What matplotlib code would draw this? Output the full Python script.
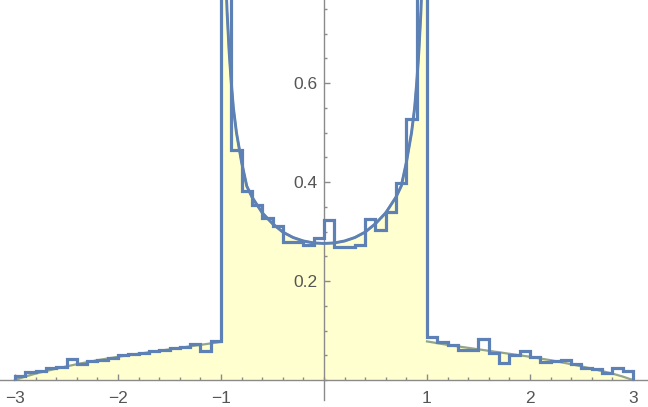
import numpy as np
import matplotlib
matplotlib.use('Agg')
import matplotlib.pyplot as plt
from matplotlib.ticker import FixedLocator, MultipleLocator

# histogram (PDF scaled), bins of width 0.1 from -3 to 3
bin_start = -3.0
bin_width = 0.1
hist_density = [
    0.008, 0.016, 0.018, 0.025, 0.026, 0.042, 0.032, 0.039, 0.040, 0.045,
    0.051, 0.053, 0.055, 0.058, 0.060, 0.064, 0.066, 0.072, 0.058, 0.079,
    1.200, 0.464, 0.382, 0.353, 0.328, 0.311, 0.279, 0.279, 0.272, 0.288,
    0.323, 0.268, 0.268, 0.273, 0.325, 0.304, 0.340, 0.399, 0.528, 1.200,
    0.086, 0.077, 0.071, 0.060, 0.060, 0.083, 0.054, 0.035, 0.051, 0.058,
    0.047, 0.037, 0.038, 0.040, 0.032, 0.024, 0.023, 0.015, 0.025, 0.018,
]

# smooth density inside (-1, 1)
center_x = [-0.96, -0.95, -0.94, -0.92, -0.90, -0.88, -0.85, -0.80, -0.75, -0.70,
            -0.60, -0.50, -0.40, -0.30, -0.20, -0.10, 0.00, 0.10, 0.20, 0.30,
            0.40, 0.50, 0.60, 0.70, 0.75, 0.80, 0.85, 0.88, 0.90, 0.92,
            0.94, 0.95, 0.96]
center_y = [0.86, 0.79, 0.74, 0.66, 0.60, 0.55, 0.50, 0.44, 0.392, 0.370,
            0.338, 0.316, 0.299, 0.288, 0.281, 0.277, 0.276, 0.277, 0.281, 0.288,
            0.299, 0.316, 0.338, 0.370, 0.392, 0.44, 0.50, 0.55, 0.60, 0.66,
            0.74, 0.79, 0.86]

# tails
left_x = [-3.0, -2.9, -2.8, -2.6, -2.4, -2.2, -2.0, -1.8, -1.6, -1.4, -1.2, -1.0]
left_y = [0.0, 0.007, 0.013, 0.023, 0.032, 0.040, 0.047, 0.053, 0.059, 0.065, 0.071, 0.077]
right_x = [1.0, 1.2, 1.4, 1.6, 1.8, 2.0, 2.2, 2.4, 2.6, 2.8, 2.9, 3.0]
right_y = [0.078, 0.071, 0.065, 0.059, 0.053, 0.047, 0.040, 0.032, 0.023, 0.013, 0.007, 0.0]

x_major = [-3, -2, -1, 1, 2, 3]
y_major = [0.2, 0.4, 0.6]

blue = '#5E81B5'
fill_col = '#FFFFD0'
curve_col = '#93a58a'
axis_col = '#8a8a8a'
text_col = '#555555'

plt.rcParams['font.family'] = ['Liberation Sans', 'DejaVu Sans']

fig = plt.figure(figsize=(6.48, 4.07), dpi=100)
ax = fig.add_axes([0, 7 / 407, 1, 400 / 407])
ax.set_xlim(-3.146, 3.146)
ax.set_ylim(-0.0404, 0.768)

# yellow filled region under the density
fx = left_x + [-1.0, -0.999] + center_x + [0.999, 1.0] + right_x
fy = left_y + [3.0, 3.0] + center_y + [3.0, 3.0] + right_y
ax.fill_between(fx, 0, fy, color=fill_col, lw=0, zorder=1)

# greenish density outline
ax.plot(left_x, left_y, color=curve_col, lw=1.6, zorder=2)
ax.plot(right_x, right_y, color=curve_col, lw=1.6, zorder=2)
ax.plot(center_x[2:-2], center_y[2:-2], color=curve_col, lw=1.6, zorder=2)

# histogram outline
edges = bin_start + bin_width * np.arange(len(hist_density) + 1)
ax.stairs(hist_density, edges, baseline=0, color=blue, lw=2.3, zorder=4)

# blue smooth curve in the middle
ax.plot(center_x, center_y, color=blue, lw=2.1, zorder=5)

for s in ['top', 'right']:
    ax.spines[s].set_visible(False)
ax.spines['left'].set_position(('data', 0))
ax.spines['bottom'].set_position(('data', 0))
for s in ['left', 'bottom']:
    ax.spines[s].set_color(axis_col)
    ax.spines[s].set_linewidth(1.0)
    ax.spines[s].set_zorder(3)
ax.patch.set_visible(False)

ax.xaxis.set_major_locator(FixedLocator(x_major))
ax.xaxis.set_minor_locator(MultipleLocator(0.2))
ax.yaxis.set_major_locator(FixedLocator(y_major))
ax.yaxis.set_minor_locator(MultipleLocator(0.05))
ax.set_xticklabels([f'\u2212{abs(v)}' if v < 0 else str(v) for v in x_major])
ax.set_yticklabels([f'{v:.1f}' for v in y_major])

ax.tick_params(which='both', direction='in', color=axis_col, width=1.0,
               labelcolor=text_col, labelsize=12.5)
ax.tick_params(which='major', length=4)
ax.tick_params(which='minor', length=2.5)
ax.tick_params(axis='x', pad=8)
ax.tick_params(axis='y', pad=5)

plt.savefig('out.png', dpi=100)
plt.close()
